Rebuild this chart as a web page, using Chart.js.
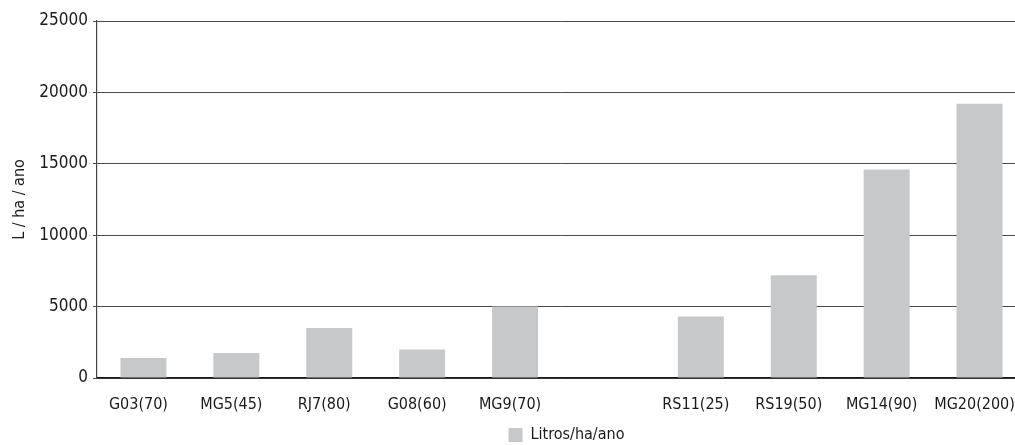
<!DOCTYPE html>
<html>
<head>
<meta charset="utf-8">
<script src="https://cdn.jsdelivr.net/npm/chart.js@4/dist/chart.umd.min.js"></script>
<style>
  html, body { margin: 0; padding: 0; background: #fff; overflow: hidden; }
</style>
</head>
<body>
<canvas id="myChart" width="1026" height="445"></canvas>
<script>
// categories - the empty one is the gap between the two groups
const categories = ['G03(70)', 'MG5(45)', 'RJ7(80)', 'G08(60)', 'MG9(70)', '', 'RS11(25)', 'RS19(50)', 'MG14(90)', 'MG20(200)'];
const litros = [1400, 1750, 3500, 2000, 5000, null, 4300, 7200, 14600, 19200];
const yTicks = [0, 5000, 10000, 15000, 20000, 25000];

// no narrow font installed, condensed dejavu is closest
const fontName = '"DejaVu Sans Condensed", "Liberation Sans", sans-serif';

// legend sits a bit right of the plot centre in the original
const nudgeLegend = {
    id: 'nudgeLegend',
    afterLayout(chart) {
        chart.legend.left += 5;
        chart.legend.right += 5;
    }
};

let el = document.getElementById('myChart');
let myChart = new Chart(el, {
    type: 'bar',
    data: {
        labels: categories,
        datasets: [{
            label: 'Litros/ha/ano',
            data: litros,
            backgroundColor: '#c7c8ca',
            borderWidth: 0,
            barPercentage: 0.495,
            categoryPercentage: 1.0
        }]
    },
    plugins: [nudgeLegend],
    options: {
        responsive: false,
        animation: false,
        layout: { padding: { top: 21, right: 0, left: 0, bottom: -8 } },
        plugins: {
            tooltip: { enabled: false },
            legend: {
                position: 'bottom',
                fullSize: false,
                labels: {
                    boxWidth: 14,
                    boxHeight: 14,
                    padding: 0,
                    color: '#1a1a1a',
                    font: { family: fontName, size: 16 }
                }
            }
        },
        scales: {
            x: {
                // tick padding otherwise eats into the right side of the plot
                afterFit: (scale) => { scale.height = 49; scale.paddingLeft = 0; scale.paddingRight = 0; },
                grid: { display: false, drawTicks: false },
                border: { display: true, color: '#1a1a1a', width: 1.5 },
                ticks: {
                    color: '#1a1a1a',
                    padding: 17,
                    labelOffset: -5,
                    autoSkip: false,
                    maxRotation: 0,
                    font: { family: fontName, size: 16 }
                }
            },
            y: {
                min: 0,
                max: 25000,
                afterFit: (scale) => { scale.width = 97; },
                afterBuildTicks: (scale) => { scale.ticks = yTicks.map(v => ({ value: v })); },
                grid: { color: '#4a4a4a', lineWidth: 1, tickLength: 4 },
                border: { display: true, color: '#444', width: 1.2 },
                ticks: {
                    color: '#1a1a1a',
                    padding: 5,
                    font: { family: fontName, size: 17 },
                    callback: (v) => String(v)
                },
                title: {
                    display: true,
                    text: 'L / ha / ano',
                    color: '#1a1a1a',
                    padding: { top: 10, bottom: 0 },
                    font: { family: fontName, size: 16 }
                }
            }
        }
    }
});
</script>
</body>
</html>
